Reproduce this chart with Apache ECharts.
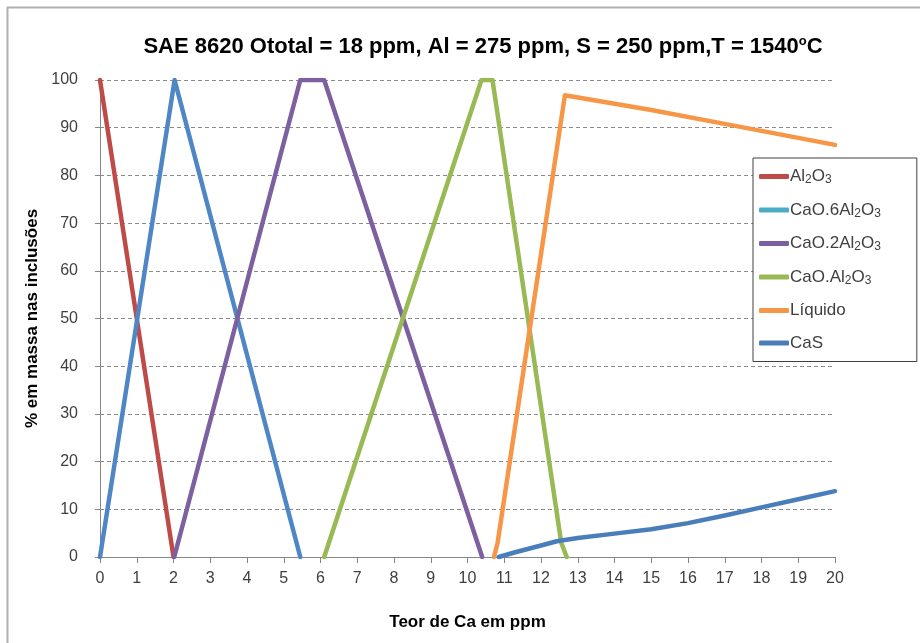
<!DOCTYPE html>
<html>
<head>
<meta charset="utf-8">
<script src="https://cdn.jsdelivr.net/npm/echarts@6/dist/echarts.min.js"></script>
<style>html,body{margin:0;padding:0;background:#fff}#c{width:920px;height:643px}</style>
</head>
<body>
<div id="c"></div>
<script>
const xTicks = [0,1,2,3,4,5,6,7,8,9,10,11,12,13,14,15,16,17,18,19,20];
const yTicks = [0,10,20,30,40,50,60,70,80,90,100];
const al2o3 = [[0,100],[2,0]];
const cao6 = [[0,0],[2.03,100],[5.45,0]];
const cao2 = [[2.02,0],[5.45,100],[6.1,100],[10.4,0]];
const caoAl = [[6.1,0],[10.38,100],[10.68,100],[12.55,3],[12.7,0]];
const liquido = [[10.72,0],[10.82,3],[12.65,96.8],[15,93.7],[17.14,90.6],[20,86.4]];
const cas = [[10.85,0],[11.3,1.0],[12,2.4],[12.43,3.3],[13,4.0],[14,4.9],[15,5.8],[16,7.1],[17,8.7],[18,10.4],[19,12.1],[20,13.8]];
const names = ['Al2O3','CaO.6Al2O3','CaO.2Al2O3','CaO.Al2O3','Líquido','CaS'];
const labels = {
  'Al2O3':'Al{s|2}O{s|3}',
  'CaO.6Al2O3':'CaO.6Al{s|2}O{s|3}',
  'CaO.2Al2O3':'CaO.2Al{s|2}O{s|3}',
  'CaO.Al2O3':'CaO.Al{s|2}O{s|3}',
  'Líquido':'Líquido',
  'CaS':'CaS'
};
const legendColors = ['#be4b48','#4bacc6','#7d60a0','#98b954','#f79646','#4a7ebb'];
const lineColors = ['#be4b48','#4f86c6','#7d60a0','#98b954','#f79646','#4a7ebb'];
const datas = [al2o3,cao6,cao2,caoAl,liquido,cas];

const chart = echarts.init(document.getElementById('c'));
const F = 'Liberation Sans, Arial, sans-serif';
chart.setOption({
  animation:false,
  backgroundColor:'#fff',
  graphic:[{type:'rect',shape:{x:7.5,y:7.5,width:930,height:650},style:{fill:'none',stroke:'#b0b0b0',lineWidth:2}}],
  title:{
    text:'SAE 8620 Ototal = 18 ppm, Al = 275 ppm, S = 250 ppm,T = 1540{s|o}C',
    left:478, top:30, textAlign:'center',
    textStyle:{fontFamily:F,fontSize:22,fontWeight:'bold',color:'#000',
      rich:{s:{fontFamily:F,fontSize:13,fontWeight:'bold',verticalAlign:'top',padding:[0,0,10,0]}}}
  },
  legend:{
    orient:'vertical', left:753, top:158,
    padding:[10,36,10,6], itemGap:15.5, itemWidth:30, itemHeight:5,
    borderColor:'#404040', borderWidth:1, backgroundColor:'#fff',
    icon:'roundRect',
    data: names.map((n,i)=>({name:n,itemStyle:{color:legendColors[i]},lineStyle:{color:legendColors[i]}})),
    formatter: n => labels[n],
    textStyle:{fontFamily:F,fontSize:17,color:'#404040',padding:[0,0,0,-4],
      rich:{s:{fontFamily:F,fontSize:12,color:'#404040',verticalAlign:'bottom',padding:[7,0,0,0]}}}
  },
  grid:{left:100,right:85,top:80,bottom:86,containLabel:false},
  xAxis:{
    type:'value', min:0, max:20, interval:1,
    name:'Teor de Ca em ppm', nameLocation:'middle', nameGap:57,
    nameTextStyle:{fontFamily:F,fontSize:17,fontWeight:'bold',color:'#000'},
    axisLine:{lineStyle:{color:'#868686'}},
    axisTick:{show:true,length:6,lineStyle:{color:'#868686'}},
    axisLabel:{fontFamily:F,fontSize:16,color:'#404040',margin:14,formatter:v=>xTicks.includes(v)?String(v):''},
    splitLine:{show:false}
  },
  yAxis:{
    type:'value', min:0, max:100, interval:10,
    name:'% em massa nas inclusões', nameLocation:'middle', nameGap:58, nameRotate:90,
    nameTextStyle:{fontFamily:F,fontSize:17,fontWeight:'bold',color:'#000'},
    axisLine:{show:true,lineStyle:{color:'#868686'}},
    axisTick:{show:true,length:5,lineStyle:{color:'#868686'}},
    axisLabel:{fontFamily:F,fontSize:16,color:'#404040',margin:22,formatter:v=>yTicks.includes(v)?String(v):''},
    splitLine:{show:true,lineStyle:{color:'#8a8a8a',type:[4,3],width:1}}
  },
  series: names.map((n,i)=>({
    name:n, type:'line', data:datas[i], showSymbol:false, symbol:'none',
    lineStyle:{color:lineColors[i],width:4.5,cap:'round',join:'round'},
    itemStyle:{color:legendColors[i]}
  }))
});
</script>
</body>
</html>
